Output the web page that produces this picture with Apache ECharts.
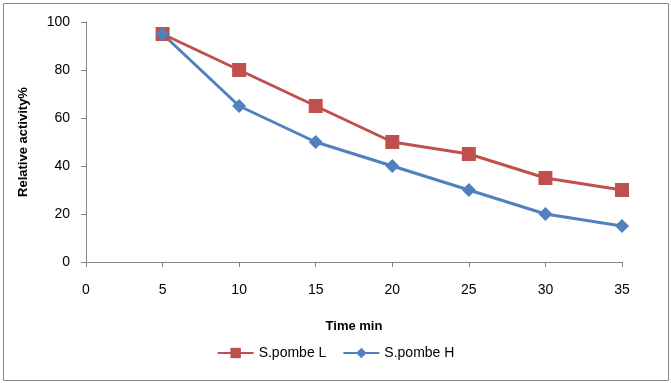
<!DOCTYPE html>
<html>
<head>
<meta charset="utf-8">
<script src="https://cdn.jsdelivr.net/npm/echarts@6/dist/echarts.min.js"></script>
<style>
  html, body { margin: 0; padding: 0; background: #fff; }
  #chart { width: 671px; height: 383px; }
</style>
</head>
<body>
<div id="chart"></div>
<script>
// time points (min) and relative activity (%)
var timeMin = [5, 10, 15, 20, 25, 30, 35];
var pombeL = [95, 80, 65, 50, 45, 35, 30];
var pombeH = [95, 65, 50, 40, 30, 20, 15];

function pairs(xs, ys) {
  return xs.map(function (x, i) { return [x, ys[i]]; });
}

var chart = echarts.init(document.getElementById('chart'));
var axisGray = '#868686';
var font = 'Liberation Sans, Arial, sans-serif';

chart.setOption({
  animation: false,
  textStyle: { fontFamily: font },
  graphic: [{
    type: 'rect',
    shape: { x: 3.5, y: 3.5, width: 665, height: 377 },
    style: { fill: 'none', stroke: axisGray, lineWidth: 1 }
  }],
  grid: { left: 86, right: 49, top: 22, bottom: 121 },
  legend: {
    bottom: 18,
    left: 'center',
    itemWidth: 36,
    itemHeight: 13,
    itemGap: 16,
    textStyle: { fontSize: 14, color: '#000', fontFamily: font },
    data: ['S.pombe L', 'S.pombe H']
  },
  xAxis: {
    type: 'value',
    min: 0, max: 35, interval: 5,
    name: 'Time min',
    nameLocation: 'middle',
    nameGap: 58,
    nameTextStyle: { fontWeight: 'bold', fontSize: 13, color: '#000' },
    axisLine: { show: true, lineStyle: { color: axisGray } },
    axisTick: { show: true, length: 5, lineStyle: { color: axisGray } },
    axisLabel: { margin: 21, fontSize: 14, color: '#000' },
    splitLine: { show: false }
  },
  yAxis: {
    type: 'value',
    min: 0, max: 100, interval: 20,
    name: 'Relative activity%',
    nameLocation: 'middle',
    nameGap: 56,
    nameTextStyle: { fontWeight: 'bold', fontSize: 13, color: '#000' },
    axisLine: { show: true, lineStyle: { color: axisGray } },
    axisTick: { show: true, length: 5, lineStyle: { color: axisGray } },
    axisLabel: { margin: 16, fontSize: 14, color: '#000' },
    splitLine: { show: false }
  },
  series: [{
    name: 'S.pombe L',
    type: 'line',
    data: pairs(timeMin, pombeL),
    symbol: 'rect',
    symbolSize: 14,
    color: '#C0504D',
    lineStyle: { width: 3, color: '#C0504D' },
    itemStyle: { color: '#C0504D' }
  }, {
    name: 'S.pombe H',
    type: 'line',
    data: pairs(timeMin, pombeH),
    symbol: 'diamond',
    symbolSize: 14,
    color: '#4F81BD',
    lineStyle: { width: 3, color: '#4F81BD' },
    itemStyle: { color: '#4F81BD' }
  }]
});
</script>
</body>
</html>
